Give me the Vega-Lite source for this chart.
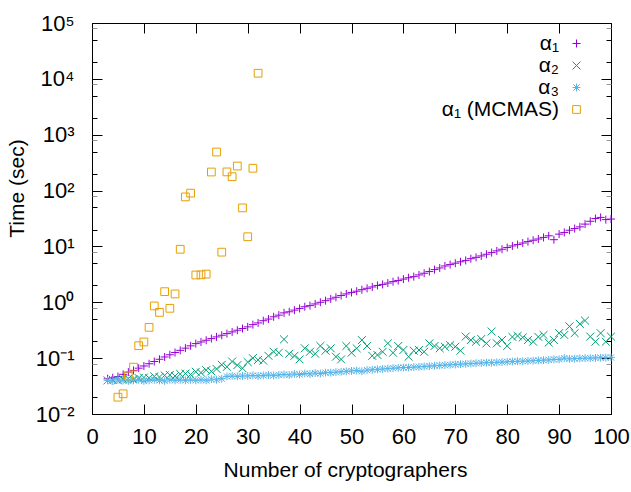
{
  "$schema": "https://vega.github.io/schema/vega-lite/v6.json",
  "width": 519,
  "height": 391,
  "autosize": {"type": "none"},
  "padding": {"left": 92, "top": 23, "right": 20, "bottom": 78},
  "config": {
    "view": {"stroke": "black", "strokeWidth": 1},
    "font": "Liberation Sans",
    "axis": {"grid": false, "domain": false, "tickColor": "black", "labelColor": "black", "titleColor": "black", "labelFont": "Liberation Sans", "titleFont": "Liberation Sans", "labelFontSize": 22, "titleFontSize": 21, "titleFontWeight": "normal", "labelOverlap": false, "labelFlush": false}
  },
  "data": {"values": [
    {"n":3,"a1":0.0427,"a2":0.040,"a3":0.040},
    {"n":4,"a1":0.0447,"a2":0.041,"a3":0.039},
    {"n":5,"a1":0.0468,"a2":0.040,"a3":0.041,"m":0.020},
    {"n":6,"a1":0.0513,"a2":0.042,"a3":0.040,"m":0.023},
    {"n":7,"a1":0.0562,"a2":0.043,"a3":0.039,"m":0.048},
    {"n":8,"a1":0.0603,"a2":0.042,"a3":0.040,"m":0.069},
    {"n":9,"a1":0.0661,"a2":0.044,"a3":0.041,"m":0.167},
    {"n":10,"a1":0.0724,"a2":0.045,"a3":0.039,"m":0.195},
    {"n":11,"a1":0.0794,"a2":0.044,"a3":0.040,"m":0.356},
    {"n":12,"a1":0.0871,"a2":0.047,"a3":0.041,"m":0.86},
    {"n":13,"a1":0.0955,"a2":0.046,"a3":0.040,"m":0.66},
    {"n":14,"a1":0.105,"a2":0.049,"a3":0.039,"m":1.55},
    {"n":15,"a1":0.115,"a2":0.050,"a3":0.041,"m":0.78},
    {"n":16,"a1":0.126,"a2":0.048,"a3":0.040,"m":1.41},
    {"n":17,"a1":0.138,"a2":0.052,"a3":0.041,"m":8.9},
    {"n":18,"a1":0.151,"a2":0.053,"a3":0.040,"m":77},
    {"n":19,"a1":0.166,"a2":0.051,"a3":0.041,"m":90},
    {"n":20,"a1":0.182,"a2":0.057,"a3":0.040,"m":3.08},
    {"n":21,"a1":0.195,"a2":0.055,"a3":0.041,"m":3.1},
    {"n":22,"a1":0.209,"a2":0.061,"a3":0.040,"m":3.2},
    {"n":23,"a1":0.224,"a2":0.058,"a3":0.042,"m":215},
    {"n":24,"a1":0.240,"a2":0.064,"a3":0.041,"m":490},
    {"n":25,"a1":0.257,"a2":0.076,"a3":0.043,"m":7.9},
    {"n":26,"a1":0.275,"a2":0.070,"a3":0.047,"m":216},
    {"n":27,"a1":0.295,"a2":0.087,"a3":0.048,"m":177},
    {"n":28,"a1":0.316,"a2":0.075,"a3":0.047,"m":275},
    {"n":29,"a1":0.339,"a2":0.066,"a3":0.048,"m":49},
    {"n":30,"a1":0.363,"a2":0.085,"a3":0.048,"m":14.9},
    {"n":31,"a1":0.398,"a2":0.100,"a3":0.049,"m":251},
    {"n":32,"a1":0.427,"a2":0.093,"a3":0.048,"m":12600},
    {"n":33,"a1":0.468,"a2":0.090,"a3":0.049},
    {"n":34,"a1":0.501,"a2":0.110,"a3":0.050},
    {"n":35,"a1":0.550,"a2":0.130,"a3":0.049},
    {"n":36,"a1":0.589,"a2":0.125,"a3":0.050},
    {"n":37,"a1":0.646,"a2":0.217,"a3":0.051},
    {"n":38,"a1":0.676,"a2":0.120,"a3":0.050},
    {"n":39,"a1":0.724,"a2":0.110,"a3":0.052},
    {"n":40,"a1":0.776,"a2":0.095,"a3":0.051},
    {"n":41,"a1":0.832,"a2":0.150,"a3":0.053},
    {"n":42,"a1":0.871,"a2":0.130,"a3":0.052},
    {"n":43,"a1":0.933,"a2":0.120,"a3":0.054},
    {"n":44,"a1":1.00,"a2":0.165,"a3":0.053},
    {"n":45,"a1":1.07,"a2":0.136,"a3":0.055},
    {"n":46,"a1":1.15,"a2":0.150,"a3":0.055},
    {"n":47,"a1":1.23,"a2":0.106,"a3":0.056},
    {"n":48,"a1":1.32,"a2":0.095,"a3":0.057},
    {"n":49,"a1":1.41,"a2":0.165,"a3":0.058},
    {"n":50,"a1":1.50,"a2":0.125,"a3":0.059},
    {"n":51,"a1":1.58,"a2":0.150,"a3":0.060},
    {"n":52,"a1":1.68,"a2":0.210,"a3":0.058},
    {"n":53,"a1":1.78,"a2":0.165,"a3":0.061},
    {"n":54,"a1":1.88,"a2":0.110,"a3":0.062},
    {"n":55,"a1":2.00,"a2":0.114,"a3":0.063},
    {"n":56,"a1":2.09,"a2":0.130,"a3":0.064},
    {"n":57,"a1":2.21,"a2":0.184,"a3":0.065},
    {"n":58,"a1":2.34,"a2":0.125,"a3":0.066},
    {"n":59,"a1":2.45,"a2":0.165,"a3":0.067},
    {"n":60,"a1":2.60,"a2":0.140,"a3":0.068},
    {"n":61,"a1":2.75,"a2":0.106,"a3":0.068},
    {"n":62,"a1":2.88,"a2":0.136,"a3":0.069},
    {"n":63,"a1":3.09,"a2":0.140,"a3":0.070},
    {"n":64,"a1":3.31,"a2":0.130,"a3":0.071},
    {"n":65,"a1":3.55,"a2":0.184,"a3":0.072},
    {"n":66,"a1":3.85,"a2":0.165,"a3":0.073},
    {"n":67,"a1":4.12,"a2":0.150,"a3":0.074},
    {"n":68,"a1":4.47,"a2":0.160,"a3":0.075},
    {"n":69,"a1":4.73,"a2":0.170,"a3":0.076},
    {"n":70,"a1":5.01,"a2":0.160,"a3":0.077},
    {"n":71,"a1":5.31,"a2":0.136,"a3":0.078},
    {"n":72,"a1":5.62,"a2":0.243,"a3":0.079},
    {"n":73,"a1":6.03,"a2":0.211,"a3":0.080},
    {"n":74,"a1":6.38,"a2":0.197,"a3":0.081},
    {"n":75,"a1":6.76,"a2":0.220,"a3":0.082},
    {"n":76,"a1":7.24,"a2":0.184,"a3":0.083},
    {"n":77,"a1":7.76,"a2":0.300,"a3":0.083},
    {"n":78,"a1":8.32,"a2":0.184,"a3":0.084},
    {"n":79,"a1":8.91,"a2":0.211,"a3":0.085},
    {"n":80,"a1":9.55,"a2":0.165,"a3":0.086},
    {"n":81,"a1":10.2,"a2":0.240,"a3":0.087},
    {"n":82,"a1":10.8,"a2":0.250,"a3":0.088},
    {"n":83,"a1":11.5,"a2":0.235,"a3":0.088},
    {"n":84,"a1":12.2,"a2":0.211,"a3":0.089},
    {"n":85,"a1":12.9,"a2":0.197,"a3":0.090},
    {"n":86,"a1":13.6,"a2":0.240,"a3":0.091},
    {"n":87,"a1":14.5,"a2":0.260,"a3":0.092},
    {"n":88,"a1":15.5,"a2":0.190,"a3":0.093},
    {"n":89,"a1":13.2,"a2":0.211,"a3":0.095},
    {"n":90,"a1":16.6,"a2":0.280,"a3":0.095},
    {"n":91,"a1":17.8,"a2":0.260,"a3":0.100},
    {"n":92,"a1":19.5,"a2":0.370,"a3":0.097},
    {"n":93,"a1":20.9,"a2":0.280,"a3":0.098},
    {"n":94,"a1":22.4,"a2":0.410,"a3":0.099},
    {"n":95,"a1":25.1,"a2":0.470,"a3":0.100},
    {"n":96,"a1":28.2,"a2":0.243,"a3":0.100},
    {"n":97,"a1":31.6,"a2":0.197,"a3":0.101},
    {"n":98,"a1":33.1,"a2":0.280,"a3":0.102},
    {"n":99,"a1":30.2,"a2":0.197,"a3":0.102},
    {"n":100,"a1":30.9,"a2":0.243,"a3":0.103}
  ]},
  "transform": [
    {"fold": ["a1", "a2", "a3", "m"], "as": ["s", "t"]},
    {"filter": "isValid(datum.t) && datum.t > 0"}
  ],
  "layer": [
    {
      "mark": {"type": "point", "filled": false, "strokeWidth": 1, "opacity": 1},
      "encoding": {
        "x": {"field": "n", "type": "quantitative", "scale": {"domain": [0, 100], "nice": false, "zero": false},
          "axis": {"orient": "bottom", "values": [0,10,20,30,40,50,60,70,80,90,100], "tickSize": -10, "labelPadding": 22, "title": "Number of cryptographers", "titlePadding": 12, "titleX": 253}},
        "y": {"field": "t", "type": "quantitative", "scale": {"type": "log", "domain": [0.01, 100000], "nice": false},
          "axis": {"orient": "left",
            "values": [0.01,0.02,0.05,0.08,0.1,0.2,0.5,0.8,1,2,5,8,10,20,50,80,100,200,500,800,1000,2000,5000,8000,10000,20000,50000,80000,100000],
            "tickSize": {"condition": {"test": "indexof([0.01,0.1,1,10,100,1000,10000,100000], datum.value) >= 0", "value": -10}, "value": -5},
            "tickColor": {"condition": {"test": "indexof([0.08,0.8,8,80,800,8000,80000], datum.value) >= 0", "value": "#999999"}, "value": "black"},
            "labelExpr": "datum.value == 100000 ? '10⁵' : datum.value == 10000 ? '10⁴' : datum.value == 1000 ? '10³' : datum.value == 100 ? '10²' : datum.value == 10 ? '10¹' : datum.value == 1 ? '10⁰' : datum.value == 0.1 ? '10⁻¹' : datum.value == 0.01 ? '10⁻²' : ''",
            "labelPadding": 28, "title": "Time (sec)", "titlePadding": 8, "titleY": 165}},
        "color": {"field": "s", "type": "nominal",
          "scale": {"domain": ["a1", "a2", "a3", "m"], "range": ["#9400d3", "#009e73", "#56b4e9", "#e69f00"]},
          "legend": {"orient": "none", "legendX": 474, "legendY": 10, "padding": 0, "title": null, "labelFontSize": 21, "labelFont": "Liberation Sans", "labelColor": "black", "labelAlign": "right", "labelOffset": -28, "rowPadding": 0, "symbolStrokeWidth": 1, "labelLimit": 300,
            "labelExpr": "datum.label == 'a1' ? 'α₁' : datum.label == 'a2' ? 'α₂' : datum.label == 'a3' ? 'α₃' : 'α₁ (MCMAS)'"}},
        "shape": {"field": "s", "type": "nominal",
          "scale": {"domain": ["a1", "a2", "a3", "m"], "range": ["M-1,0L1,0M0,-1L0,1", "M-1,-1L1,1M-1,1L1,-1", "M-1,0L1,0M0,-1L0,1M-0.8,-0.8L0.8,0.8M-0.8,0.8L0.8,-0.8", "M-1,-1L1,-1L1,1L-1,1Z"]}},
        "size": {"field": "s", "type": "nominal", "scale": {"domain": ["a1", "a2", "a3", "m"], "range": [64, 60, 64, 85]}},
        "order": {"field": "s", "type": "nominal"}
      }
    },
    {
      "mark": {"type": "point", "opacity": 0},
      "encoding": {
        "x": {"field": "n", "type": "quantitative", "scale": {"domain": [0, 100], "nice": false, "zero": false},
          "axis": {"orient": "top", "values": [0,10,20,30,40,50,60,70,80,90,100], "tickSize": -10, "labels": false, "title": null}},
        "y": {"field": "t", "type": "quantitative", "scale": {"type": "log", "domain": [0.01, 100000], "nice": false},
          "axis": {"orient": "right", "labels": false, "title": null,
            "values": [0.01,0.02,0.05,0.08,0.1,0.2,0.5,0.8,1,2,5,8,10,20,50,80,100,200,500,800,1000,2000,5000,8000,10000,20000,50000,80000,100000],
            "tickSize": {"condition": {"test": "indexof([0.01,0.1,1,10,100,1000,10000,100000], datum.value) >= 0", "value": -10}, "value": -5},
            "tickColor": {"condition": {"test": "indexof([0.08,0.8,8,80,800,8000,80000], datum.value) >= 0", "value": "#999999"}, "value": "black"}}}
      }
    }
  ],
  "resolve": {"axis": {"x": "independent", "y": "independent"}}
}
